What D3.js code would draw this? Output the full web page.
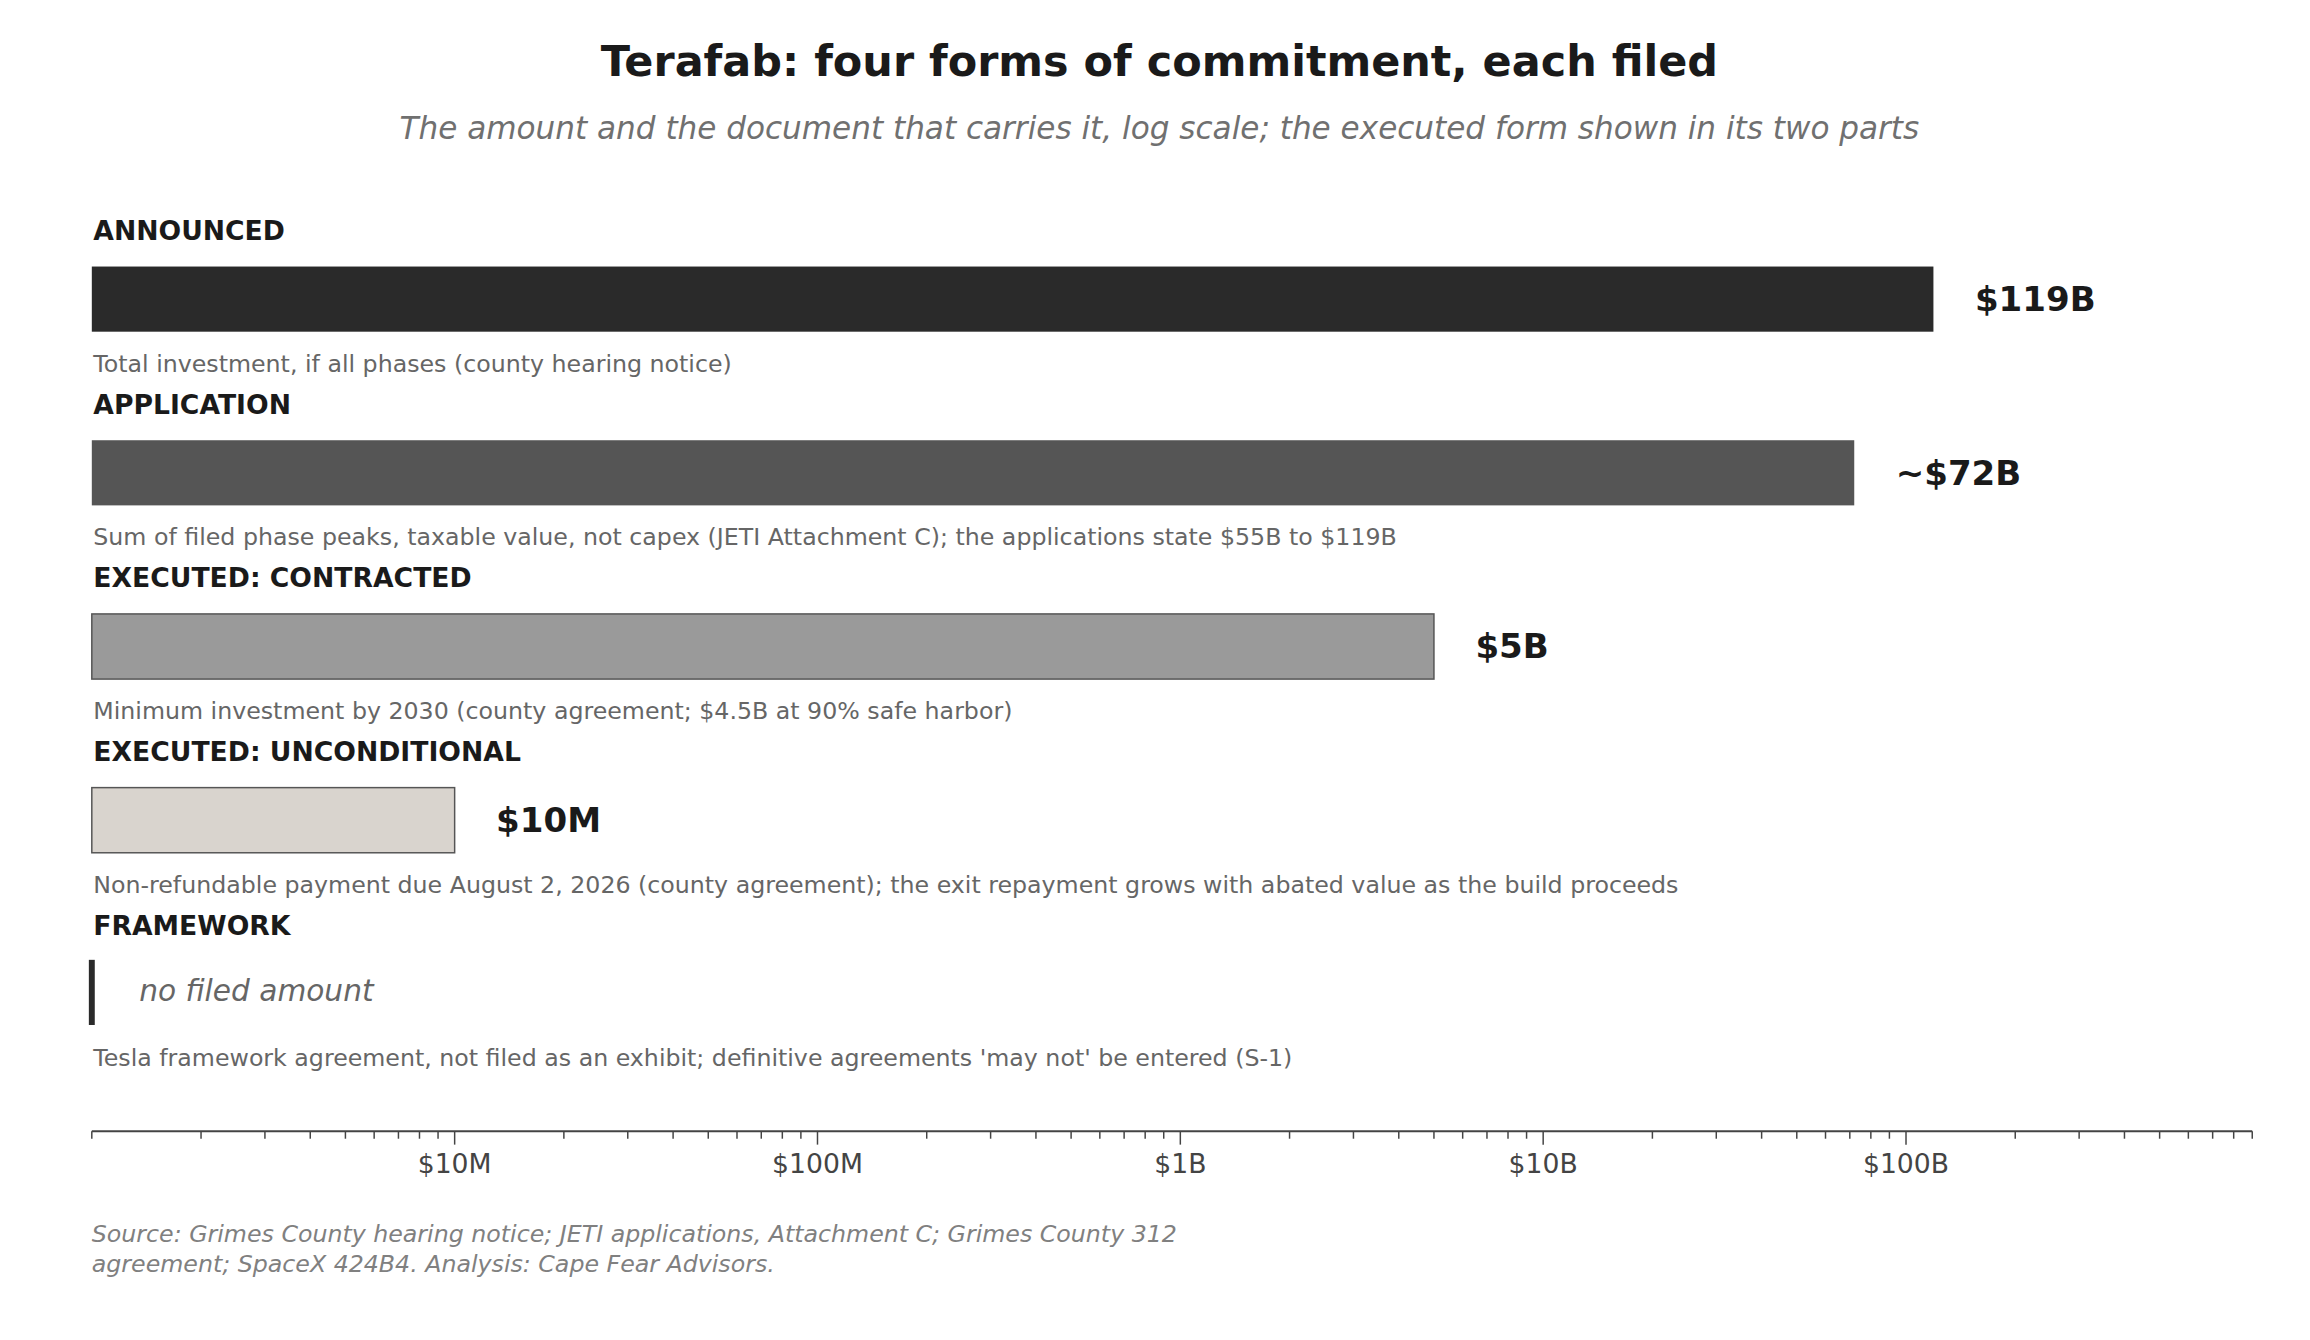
<!DOCTYPE html><html><head><meta charset="utf-8"><script src="https://cdn.jsdelivr.net/npm/d3@7"></script>
<style>body{margin:0;background:#fff}text{font-family:"DejaVu Sans",sans-serif}</style></head><body><svg id="c" width="2310" height="1340"></svg><script>
const labels=["ANNOUNCED","APPLICATION","EXECUTED: CONTRACTED","EXECUTED: UNCONDITIONAL","FRAMEWORK"];
const values=[119e9,72e9,5e9,10e6,null];
const valueText=["$119B","~$72B","$5B","$10M",""];
const notes=["Total investment, if all phases (county hearing notice)","Sum of filed phase peaks, taxable value, not capex (JETI Attachment C); the applications state $55B to $119B","Minimum investment by 2030 (county agreement; $4.5B at 90% safe harbor)","Non-refundable payment due August 2, 2026 (county agreement); the exit repayment grows with abated value as the build proceeds","Tesla framework agreement, not filed as an exhibit; definitive agreements 'may not' be entered (S-1)"];
const colors=["#2a2a2a","#555555","#9a9a9a","#d9d4ce"];
const tickVals=[1e7,1e8,1e9,1e10,1e11];
const tickLabels=["$10M","$100M","$1B","$10B","$100B"];
const s=2310/1560;
const g=d3.select("#c").append("g").attr("transform",`scale(${s})`);
const x=d3.scaleLog().domain([1e6,9e11]).range([62,1521]);
g.append("text").attr("x",783).attr("y",51).attr("text-anchor","middle").attr("font-size",29).attr("font-weight","bold").attr("fill","#1a1a1a").text("Terafab: four forms of commitment, each filed");
g.append("text").attr("x",783).attr("y",94).attr("text-anchor","middle").attr("font-size",21).attr("font-style","italic").attr("fill","#707070").text("The amount and the document that carries it, log scale; the executed form shown in its two parts");
labels.forEach((l,i)=>{const y0=180+i*117.3;
 g.append("text").attr("x",63).attr("y",y0-18).attr("font-size",18).attr("font-weight","bold").attr("fill","#1a1a1a").text(l);
 if(values[i]!=null){
  g.append("rect").attr("x",x(1e6)).attr("y",y0).attr("width",x(values[i])-x(1e6)).attr("height",44).attr("fill",colors[i]).attr("stroke",i>=2?"#555":"none").attr("stroke-width",1);
  g.append("text").attr("x",x(values[i])+28).attr("y",y0+30).attr("font-size",23).attr("font-weight","bold").attr("fill","#1a1a1a").text(valueText[i]);
 } else {
  g.append("rect").attr("x",60).attr("y",y0-1).attr("width",4).attr("height",44).attr("fill","#2a2a2a");
  g.append("text").attr("x",94).attr("y",y0+27).attr("font-size",20).attr("font-style","italic").attr("fill","#666").text("no filed amount");
 }
 g.append("text").attr("x",63).attr("y",y0+71).attr("font-size",16).attr("fill","#666").text(notes[i]);
});
const ay=764;
g.append("line").attr("x1",62).attr("x2",1521).attr("y1",ay).attr("y2",ay).attr("stroke","#444").attr("stroke-width",1.3);
const minors=[];for(let e=6;e<=11;e++)for(let m=1;m<=9;m++){const v=m*10**e;if(v>=1e6&&v<=9e11)minors.push(v);}
g.selectAll(".mt").data(minors).join("line").attr("x1",d=>x(d)).attr("x2",d=>x(d)).attr("y1",ay).attr("y2",d=>tickVals.includes(d)?ay+9:ay+5).attr("stroke","#444").attr("stroke-width",1);
tickVals.forEach((v,i)=>g.append("text").attr("x",x(v)).attr("y",ay+28).attr("text-anchor","middle").attr("font-size",18).attr("fill","#444").text(tickLabels[i]));
g.append("text").attr("x",62).attr("y",839).attr("font-size",16).attr("font-style","italic").attr("fill","#808080").text("Source: Grimes County hearing notice; JETI applications, Attachment C; Grimes County 312");
g.append("text").attr("x",62).attr("y",859).attr("font-size",16).attr("font-style","italic").attr("fill","#808080").text("agreement; SpaceX 424B4. Analysis: Cape Fear Advisors.");
</script></body></html>
